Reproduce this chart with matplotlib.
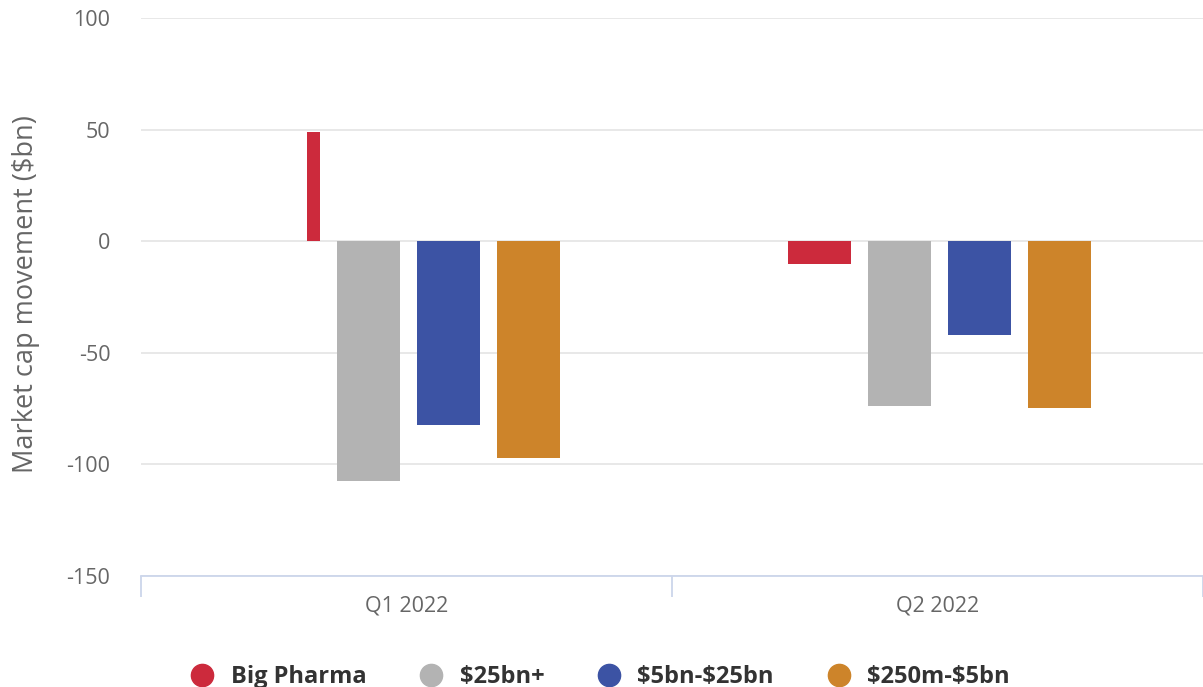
import matplotlib.pyplot as plt
from matplotlib.lines import Line2D
import numpy as np

plt.rcParams['font.family'] = ['Open Sans', 'DejaVu Sans']

# data
quarters = ['Q1 2022', 'Q2 2022']
series = ['Big Pharma', r'\$25bn+', r'\$5bn-\$25bn', r'\$250m-\$5bn']
big_pharma = [48.8, -10.3]
cap_25bn = [-107.5, -73.9]
cap_5_25bn = [-82.4, -42.1]
cap_250m_5bn = [-97.2, -74.8]
values = [big_pharma, cap_25bn, cap_5_25bn, cap_250m_5bn]

colors = ['#cc2a3c', '#b3b3b3', '#3c53a4', '#cd842a']

fig = plt.figure(figsize=(12.03, 6.87), dpi=100)
ax = fig.add_axes([141 / 1203, 1 - 576 / 687, 1 - 141 / 1203, (576 - 18) / 687])

x = np.arange(len(quarters))
width = 0.118
step = 0.1507
# the Q1 Big Pharma bar is drawn narrower in the original
widths = [[0.0245, width], [width] * 2, [width] * 2, [width] * 2]

for i, (vals, c) in enumerate(zip(values, colors)):
    pos = x + (i - 1.5) * step + 0.004
    w = np.array(widths[i])
    ax.bar(pos + width / 2, vals, -w, align='edge', color=c, zorder=3)

ax.set_xlim(-0.5, 1.5)
ax.set_ylim(-150, 100)
ax.set_yticks([-150, -100, -50, 0, 50, 100])
ax.set_yticklabels(['-150', '-100', '-50', '0', '50', '100'])
ax.grid(axis='y', color='#e6e6e6', linewidth=1.3, zorder=0)
ax.set_xticks(x)
ax.set_xticklabels(quarters)
ax.set_xticks([-0.5, 0.5, 1.5], minor=True)
ax.tick_params(axis='x', which='major', length=0, pad=14, labelsize=15.5, labelcolor='#666666')
ax.tick_params(axis='x', which='minor', length=15, color='#ccd6eb', width=1.3)
ax.tick_params(axis='y', length=0, pad=22, labelsize=15.5, labelcolor='#666666')

for s in ['top', 'right', 'left']:
    ax.spines[s].set_visible(False)
ax.spines['bottom'].set_color('#ccd6eb')
ax.spines['bottom'].set_linewidth(1.3)

fig.text(26 / 1203, 1 - 294 / 687, r'Market cap movement (\$bn)', rotation=90,
         ha='center', va='center', fontsize=19.5, color='#666666')

handles = [Line2D([], [], marker='o', linestyle='', markersize=16, color=c) for c in colors]
leg = fig.legend(handles, series, loc='center', bbox_to_anchor=(0.494, 1 - 677 / 687), ncol=4,
                 frameon=False, handlelength=2.0, handletextpad=0.2, columnspacing=1.75,
                 prop={'weight': 'bold', 'size': 17})
for t in leg.get_texts():
    t.set_color('#333333')

fig.savefig('out.png', dpi=100)
